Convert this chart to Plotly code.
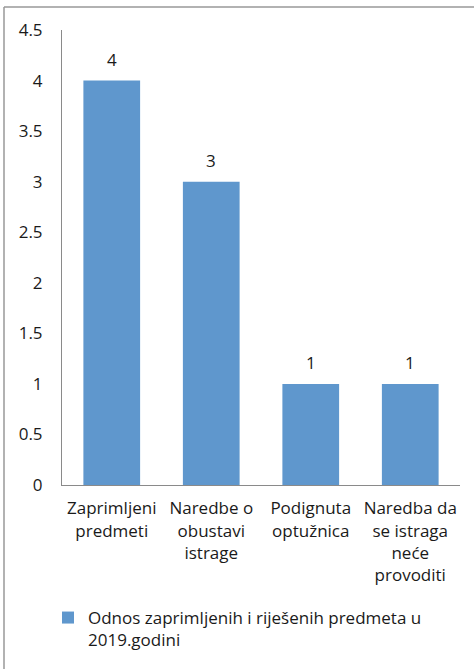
import plotly.graph_objects as go

categories = ["Zaprimljeni<br>predmeti", "Naredbe o<br>obustavi<br>istrage", "Podignuta<br>optužnica", "Naredba da<br>se istraga<br>neće<br>provoditi"]
values = [4, 3, 1, 1]
series_name = "Odnos zaprimljenih i riješenih predmeta u<br>2019.godini"

W, H = 474, 669
L, R, T, B = 62, 14, 30, 183
pw, ph = W - L - R, H - T - B

font = "'Open Sans', sans-serif"
fs = 17
txt = "#1a1a1a"
bar_color = "#5F97CD"
axis_color = "#8a8a8a"

fig = go.Figure()
fig.add_trace(go.Bar(x=categories, y=values, name=series_name, marker_color=bar_color,
                     marker_line_width=0, showlegend=True))

for c, v in zip(categories, values):
    fig.add_annotation(x=c, y=v, text=str(v), showarrow=False, yanchor="bottom",
                       yshift=8, font=dict(family=font, size=fs, color=txt))

# outer border (only top and left visible)
bx = (4 - L) / pw
by = 1 + (T - 7) / ph
fig.add_shape(type="line", xref="paper", yref="paper", x0=bx, x1=(W - L + 5) / pw, y0=by, y1=by,
              line=dict(color="#999999", width=1.5))
fig.add_shape(type="line", xref="paper", yref="paper", x0=bx, x1=bx, y0=by, y1=-(B + 5) / ph,
              line=dict(color="#999999", width=1.5))

fig.update_layout(
    width=W, height=H,
    margin=dict(l=L, r=R, t=T, b=B),
    paper_bgcolor="white", plot_bgcolor="white",
    bargap=0.43,
    font=dict(family=font, size=fs, color=txt),
    showlegend=True,
    legend=dict(x=-14 / pw, xanchor="left", y=-(600 - (H - B)) / ph,
                yanchor="top", valign="top", font=dict(family=font, size=fs, color=txt),
                bgcolor="rgba(0,0,0,0)", itemwidth=30, tracegroupgap=0),
    xaxis=dict(showline=True, linecolor=axis_color, linewidth=1, showgrid=False,
               ticks="", ticklabelstandoff=8, tickfont=dict(family=font, size=fs, color=txt)),
    yaxis=dict(range=[0, 4.5], dtick=0.5, tick0=0, showline=True, linecolor=axis_color, linewidth=1,
               showgrid=False, zeroline=False, ticks="", ticklabelstandoff=15,
               tickfont=dict(family=font, size=fs, color=txt)),
)

fig.write_html("out.html")
